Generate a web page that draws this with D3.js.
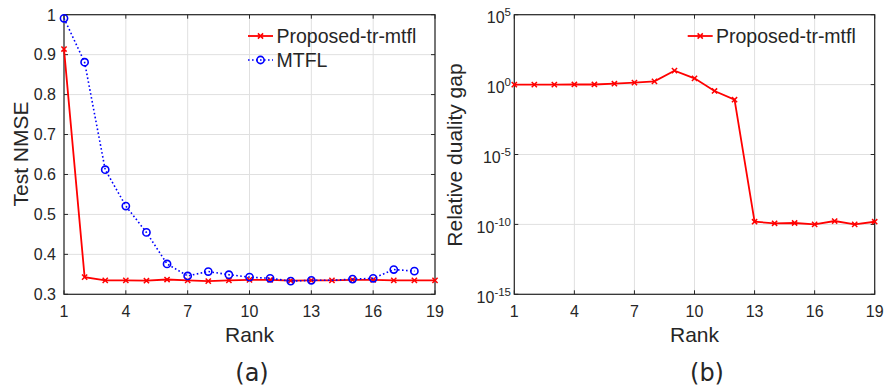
<!DOCTYPE html>
<html>
<head>
<meta charset="utf-8">
<script src="https://cdn.jsdelivr.net/npm/d3@7"></script>
<style>
  body { margin: 0; background: #fff; }
  svg text { font-family: "Liberation Sans", Arial, Helvetica, sans-serif; fill: #262626; }
  .cap { font-family: "DejaVu Sans", sans-serif; }
</style>
</head>
<body>
<svg id="chart" width="884" height="388"></svg>
<script>
// ranks on x axis
const ranks = d3.range(1, 20);
const rankTicks = [1, 4, 7, 10, 13, 16, 19];

// (a) test NMSE
const nmseProposed = [0.914, 0.343, 0.335, 0.335, 0.334, 0.337, 0.335, 0.333, 0.335, 0.336,
                      0.336, 0.334, 0.335, 0.335, 0.336, 0.336, 0.335, 0.335, 0.335];
const nmseMtfl = [0.991, 0.881, 0.612, 0.521, 0.455, 0.376, 0.346, 0.357, 0.349, 0.343,
                  0.340, 0.333, 0.335, 0.335, 0.338, 0.340, 0.362, 0.358];
const mtflNoMarker = [14];
const nmseTicks = [0.3, 0.4, 0.5, 0.6, 0.7, 0.8, 0.9, 1];

// (b) relative duality gap
const gapProposed = [1.0, 1.0, 1.0, 1.02, 1.02, 1.16, 1.37, 1.7, 10.0, 2.8,
                     0.35, 0.083, 1.55e-10, 1.2e-10, 1.26e-10, 1.0e-10, 1.74e-10, 1.0e-10, 1.55e-10];
const gapTicks = [-15, -10, -5, 0, 5];

const svg = d3.select("#chart");
const axisColor = "#262626", gridColor = "#e0e0e0";

function frame(g, x, y, yTickVals, yScaleVal) {
  const [x0, x1] = x.range(), [y1, y0] = y.range();
  // grid
  g.selectAll(".gx").data(rankTicks).enter().append("line")
    .attr("x1", d => x(d)).attr("x2", d => x(d)).attr("y1", y0).attr("y2", y1)
    .attr("stroke", gridColor);
  g.selectAll(".gy").data(yTickVals).enter().append("line")
    .attr("x1", x0).attr("x2", x1).attr("y1", d => yScaleVal(d)).attr("y2", d => yScaleVal(d))
    .attr("stroke", gridColor);
  // inward ticks on all four sides
  const tl = 4;
  rankTicks.forEach(d => {
    g.append("line").attr("x1", x(d)).attr("x2", x(d)).attr("y1", y1).attr("y2", y1 - tl).attr("stroke", axisColor);
    g.append("line").attr("x1", x(d)).attr("x2", x(d)).attr("y1", y0).attr("y2", y0 + tl).attr("stroke", axisColor);
  });
  yTickVals.forEach(d => {
    g.append("line").attr("x1", x0).attr("x2", x0 + tl).attr("y1", yScaleVal(d)).attr("y2", yScaleVal(d)).attr("stroke", axisColor);
    g.append("line").attr("x1", x1).attr("x2", x1 - tl).attr("y1", yScaleVal(d)).attr("y2", yScaleVal(d)).attr("stroke", axisColor);
  });
  g.append("rect").attr("x", x0).attr("y", y0).attr("width", x1 - x0).attr("height", y1 - y0)
    .attr("fill", "none").attr("stroke", axisColor).attr("stroke-width", 1.2);
  // x tick labels
  g.selectAll(".xl").data(rankTicks).enter().append("text")
    .attr("x", d => x(d)).attr("y", y1 + 23).attr("text-anchor", "middle")
    .style("font-size", "16px").text(d => d);
  g.append("text").attr("x", (x0 + x1) / 2).attr("y", 341.5).attr("text-anchor", "middle")
    .style("font-size", "21px").text("Rank");
}

function crosses(g, pts, color) {
  const s = 2.6;
  g.selectAll(null).data(pts).enter().append("path")
    .attr("d", d => `M${d[0] - s},${d[1] - s}L${d[0] + s},${d[1] + s}M${d[0] - s},${d[1] + s}L${d[0] + s},${d[1] - s}`)
    .attr("stroke", color).attr("stroke-width", 1.5).attr("fill", "none");
}

// ---------- (a) ----------
const xa = d3.scaleLinear().domain([1, 19]).range([64, 435]);
const ya = d3.scaleLinear().domain([0.3, 1]).range([294.3, 14.7]);
const ga = svg.append("g");
frame(ga, xa, ya, nmseTicks, ya);
ga.selectAll(".yl").data(nmseTicks).enter().append("text")
  .attr("x", 56).attr("y", d => ya(d) + 5.8).attr("text-anchor", "end")
  .style("font-size", "16px").text(d => d);
ga.append("text").attr("transform", "translate(28.3,154) rotate(-90)")
  .attr("text-anchor", "middle").style("font-size", "21px").text("Test NMSE");

const lineA = d3.line().x((d, i) => xa(ranks[i])).y(d => ya(d));
ga.append("path").attr("d", lineA(nmseProposed)).attr("fill", "none")
  .attr("stroke", "#ff0000").attr("stroke-width", 1.8);
crosses(ga, nmseProposed.map((v, i) => [xa(ranks[i]), ya(v)]), "#ff0000");
ga.append("path").attr("d", lineA(nmseMtfl)).attr("fill", "none")
  .attr("stroke", "#0000ff").attr("stroke-width", 1.6).attr("stroke-dasharray", "1.6,2.4");
ga.selectAll(".mc").data(nmseMtfl.map((v, i) => [ranks[i], v]).filter(d => !mtflNoMarker.includes(d[0])))
  .enter().append("circle")
  .attr("cx", d => xa(d[0])).attr("cy", d => ya(d[1])).attr("r", 3.6)
  .attr("fill", "none").attr("stroke", "#0000ff").attr("stroke-width", 1.6);

// legend (a)
ga.append("line").attr("x1", 248).attr("x2", 273).attr("y1", 36).attr("y2", 36)
  .attr("stroke", "#ff0000").attr("stroke-width", 1.8);
crosses(ga, [[260.5, 36]], "#ff0000");
ga.append("text").attr("x", 276.5).attr("y", 43.3).style("font-size", "19.5px").text("Proposed-tr-mtfl");
ga.append("line").attr("x1", 248).attr("x2", 273).attr("y1", 60).attr("y2", 60)
  .attr("stroke", "#0000ff").attr("stroke-width", 1.6).attr("stroke-dasharray", "1.6,2.4");
ga.append("circle").attr("cx", 260.5).attr("cy", 60).attr("r", 3.6)
  .attr("fill", "none").attr("stroke", "#0000ff").attr("stroke-width", 1.6);
ga.append("text").attr("x", 276.5).attr("y", 66.7).style("font-size", "19.5px").text("MTFL");
ga.append("text").attr("class", "cap").attr("x", 252).attr("y", 381)
  .attr("text-anchor", "middle").style("font-size", "24px").text("(a)");

// ---------- (b) ----------
const xb = d3.scaleLinear().domain([1, 19]).range([514.3, 874.7]);
const yb = d3.scaleLog().domain([1e-15, 1e5]).range([294.3, 14.7]);
const gb = svg.append("g");
frame(gb, xb, yb, gapTicks, d => yb(Math.pow(10, d)));
const yl = gb.selectAll(".yl").data(gapTicks).enter().append("text")
  .attr("x", 511).attr("y", d => yb(Math.pow(10, d)) + 8.7).attr("text-anchor", "end")
  .style("font-size", "16px");
yl.append("tspan").text("10");
yl.append("tspan").attr("dy", -7.5).style("font-size", "11.5px").text(d => d);
gb.append("text").attr("transform", "translate(462,155) rotate(-90)")
  .attr("text-anchor", "middle").style("font-size", "21px").text("Relative duality gap");

const lineB = d3.line().x((d, i) => xb(ranks[i])).y(d => yb(d));
gb.append("path").attr("d", lineB(gapProposed)).attr("fill", "none")
  .attr("stroke", "#ff0000").attr("stroke-width", 1.8);
crosses(gb, gapProposed.map((v, i) => [xb(ranks[i]), yb(v)]), "#ff0000");

gb.append("line").attr("x1", 687.7).attr("x2", 712.7).attr("y1", 36).attr("y2", 36)
  .attr("stroke", "#ff0000").attr("stroke-width", 1.8);
crosses(gb, [[700.2, 36]], "#ff0000");
gb.append("text").attr("x", 716).attr("y", 43.3).style("font-size", "19.5px").text("Proposed-tr-mtfl");
gb.append("text").attr("class", "cap").attr("x", 707).attr("y", 381)
  .attr("text-anchor", "middle").style("font-size", "24px").text("(b)");
</script>
</body>
</html>
